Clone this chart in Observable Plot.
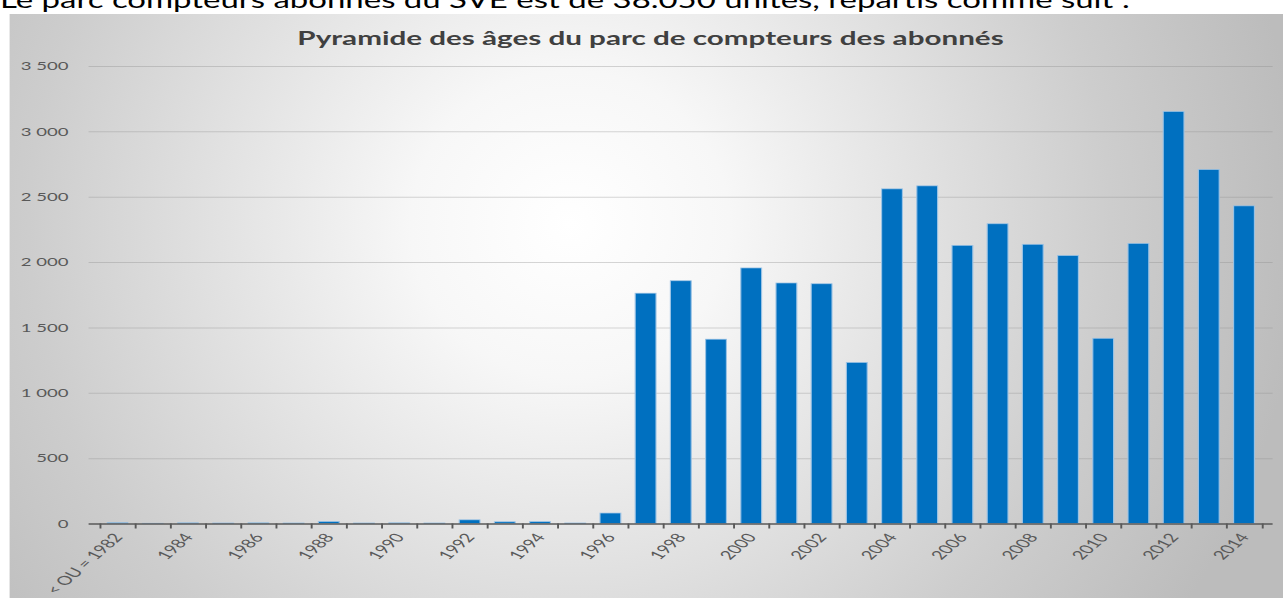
<!DOCTYPE html>
<html>
<head>
<meta charset="utf-8">
<script src="https://cdn.jsdelivr.net/npm/d3@7"></script>
<script src="https://cdn.jsdelivr.net/npm/@observablehq/plot@0.6"></script>
<style>
  html, body { margin: 0; padding: 0; background: #ffffff; overflow: hidden; }
  #page { position: relative; height: 598px; transform-origin: 0 0; }
  #intro { position: absolute; left: 0; top: 0; height: 14px; width: 100%; overflow: hidden; }
  #intro div { position: absolute; left: 0; top: -13px; font-family: Lato, sans-serif; font-size: 24px; line-height: 24px; color: #000; white-space: nowrap; transform-origin: 0 0; }
  #chart { position: absolute; top: 14px; height: 584px; }
  #title { box-sizing: border-box; height: 40px; padding-top: 15px; padding-left: 5px; text-align: center; font-family: Lato, sans-serif; font-weight: 700; font-size: 18.5px; line-height: 18.5px; color: #404040; white-space: nowrap; }
</style>
</head>
<body>
<div id="page">
  <div id="intro"><div id="introText">Le parc compteurs abonnés du SVE est de 38.050 unités, répartis comme suit :</div></div>
  <div id="chart">
    <div id="title">Pyramide des âges du parc de compteurs des abonnés</div>
    <div id="plot"></div>
  </div>
</div>
<script>
// ---- data ----
const categories = ["< OU = 1982", "1983", "1984", "1985", "1986", "1987", "1988", "1989", "1990", "1991",
  "1992", "1993", "1994", "1995", "1996", "1997", "1998", "1999", "2000", "2001", "2002", "2003",
  "2004", "2005", "2006", "2007", "2008", "2009", "2010", "2011", "2012", "2013", "2014"];
const values = [6, 2, 5, 4, 5, 4, 15, 4, 5, 4,
  28, 13, 14, 4, 80, 1762, 1857, 1410, 1955, 1840, 1834, 1232,
  2560, 2583, 2128, 2293, 2136, 2050, 1417, 2143, 3152, 2708, 2430];
const yTicks = [0, 500, 1000, 1500, 2000, 2500, 3000, 3500];
const xTickLabels = ["< OU = 1982", "1984", "1986", "1988", "1990", "1992", "1994", "1996", "1998",
  "2000", "2002", "2004", "2006", "2008", "2010", "2012", "2014"];

const table = categories.map((c, i) => ({cat: c, value: values[i]}));

// ---- layout (page drawn at natural width then stretched horizontally) ----
const S = 1.6;
const pageW = 1283 / S;
const page = document.getElementById("page");
page.style.width = pageW + "px";
page.style.transform = `scaleX(${S})`;

// intro line: fit to its width in the reference
const intro = document.getElementById("introText");
const introW = intro.getBoundingClientRect().width / S;
intro.style.transform = `scaleX(${(1130 / S) / introW})`;

const chartLeft = 10 / S, chartW = 1273 / S;
const chart = document.getElementById("chart");
chart.style.left = chartLeft + "px";
chart.style.width = chartW + "px";
chart.style.background = "radial-gradient(ellipse 50% 105% at 44% 36%, #ffffff 0%, #f7f7f7 25%, #cdcdcd 85%, #bcbcbc 115%)";

const W = chartW, H = 544;
const mL = 79 / S, mR = 10 / S, mT = 12, mB = 74.5;
const step = (W - mL - mR) / categories.length;
const fmt = d => d3.format(",")(d).replace(/,/g, " ");

const plot = Plot.plot({
  width: W,
  height: H,
  marginLeft: mL,
  marginRight: mR,
  marginTop: mT,
  marginBottom: mB,
  style: {background: "transparent", fontFamily: "Lato, sans-serif", fontSize: "11.6px", color: "#595959", overflow: "visible"},
  x: {domain: categories, paddingInner: 0.4, paddingOuter: 0.2, label: null},
  y: {domain: [0, 3500], label: null},
  marks: [
    Plot.ruleY(yTicks.filter(d => d > 0), {stroke: "#8a8a8a", strokeOpacity: 0.35, strokeWidth: 1}),
    Plot.barY(table, {x: "cat", y: "value", fill: "#0070C0", stroke: "#9cc3e5", strokeWidth: 0.7}),
    Plot.ruleY([0], {stroke: "#595959", strokeWidth: 1.6}),
    Plot.axisY({ticks: yTicks, tickSize: 0, tickPadding: 13, tickFormat: fmt, label: null}),
    Plot.axisX({ticks: categories, tickSize: 5, tickFormat: () => "", dx: -step / 2, stroke: "#595959", strokeWidth: 1.2, label: null}),
    Plot.axisX({ticks: [categories[categories.length - 1]], tickSize: 5, tickFormat: () => "", dx: step / 2, stroke: "#595959", strokeWidth: 1.2, label: null}),
    Plot.axisX({ticks: xTickLabels, tickSize: 0, tickPadding: 11, tickRotate: -54, fontSize: 12.4, dx: 0, label: null})
  ]
});
document.getElementById("plot").appendChild(plot);
</script>
</body>
</html>
